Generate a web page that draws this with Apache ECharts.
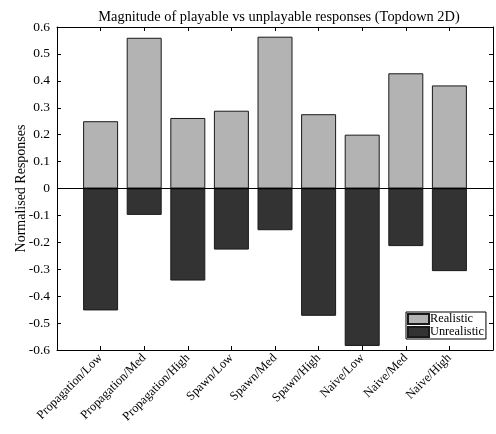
<!DOCTYPE html>
<html>
<head>
<meta charset="utf-8">
<script src="https://cdn.jsdelivr.net/npm/echarts@6/dist/echarts.min.js"></script>
<style>
  html, body { margin: 0; padding: 0; background: #ffffff; }
  #chart { width: 496px; height: 434px; }
</style>
</head>
<body>
<div id="chart"></div>
<script>
// Conditions compared in the study
const categories = [
  'Propagation/Low', 'Propagation/Med', 'Propagation/High',
  'Spawn/Low', 'Spawn/Med', 'Spawn/High',
  'Naive/Low', 'Naive/Med', 'Naive/High'
];
// Normalised responses per condition
const realistic = [0.25, 0.56, 0.262, 0.289, 0.564, 0.276, 0.2, 0.428, 0.383];
const unrealistic = [-0.453, -0.098, -0.342, -0.227, -0.155, -0.473, -0.585, -0.214, -0.307];
const yTicks = [-0.6, -0.5, -0.4, -0.3, -0.2, -0.1, 0, 0.1, 0.2, 0.3, 0.4, 0.5, 0.6];

const FONT = 'Liberation Serif';
const chart = echarts.init(document.getElementById('chart'), null, { renderer: 'canvas' });

// Bars sit at positions 1..N on a 0..N+1 value axis
const toPairs = arr => arr.map((v, i) => [i + 1, v]);

const tickStyle = { show: true, inside: true, length: 4, lineStyle: { color: '#000', width: 1 } };

chart.setOption({
  backgroundColor: '#ffffff',
  animation: false,
  textStyle: { fontFamily: FONT, color: '#000' },
  title: {
    text: 'Magnitude of playable vs unplayable responses (Topdown 2D)',
    left: 274, top: 5, textAlign: 'center',
    textStyle: { fontFamily: FONT, fontSize: 14.4, fontWeight: 'normal', color: '#000' }
  },
  grid: { left: 57, right: 3, top: 27, bottom: 84, containLabel: false, outerBoundsMode: 'none' },
  legend: {
    data: ['Realistic', 'Unrealistic'],
    orient: 'vertical',
    left: 406, top: 312,
    padding: [1, 2, 1, 1],
    itemGap: 1,
    itemWidth: 21, itemHeight: 10,
    icon: 'rect',
    backgroundColor: '#ffffff',
    borderColor: '#000', borderWidth: 1,
    borderRadius: 0,
    textStyle: { fontFamily: FONT, fontSize: 12.3, lineHeight: 11, color: '#000', padding: [0, 0, 0, -4] }
  },
  xAxis: [
    {
      type: 'value', min: 0, max: categories.length + 1, interval: 1,
      position: 'bottom',
      splitLine: { show: false },
      axisLine: { show: true, onZero: false, lineStyle: { color: '#000', width: 1 } },
      axisTick: tickStyle,
      axisLabel: {
        rotate: 45, fontFamily: FONT, fontSize: 12.5, color: '#000', margin: 6,
        formatter: v => categories[v - 1] || ''
      }
    },
    {
      type: 'value', min: 0, max: categories.length + 1, interval: 1,
      position: 'top',
      splitLine: { show: false },
      axisLine: { show: true, onZero: false, lineStyle: { color: '#000', width: 1 } },
      axisTick: tickStyle,
      axisLabel: { show: false }
    }
  ],
  yAxis: [
    {
      type: 'value', min: yTicks[0], max: yTicks[yTicks.length - 1], interval: 0.1,
      position: 'left',
      name: 'Normalised Responses', nameLocation: 'middle', nameGap: 29,
      nameMoveOverlap: false,
      nameTextStyle: { fontFamily: FONT, fontSize: 14, color: '#000' },
      splitLine: { show: false },
      axisLine: { show: true, onZero: false, lineStyle: { color: '#000', width: 1 } },
      axisTick: tickStyle,
      axisLabel: {
        fontFamily: FONT, fontSize: 13.5, color: '#000', margin: 7,
        formatter: v => {
          const r = Math.round(v * 10) / 10;
          return r === 0 ? '0' : r.toFixed(1);
        }
      }
    },
    {
      type: 'value', min: yTicks[0], max: yTicks[yTicks.length - 1], interval: 0.1,
      position: 'right',
      splitLine: { show: false },
      axisLine: { show: true, onZero: false, lineStyle: { color: '#000', width: 1 } },
      axisTick: tickStyle,
      axisLabel: { show: false }
    }
  ],
  series: [
    {
      name: 'Realistic', type: 'bar',
      data: toPairs(realistic),
      barWidth: 35, barGap: '-100%',
      itemStyle: { color: '#b3b3b3', borderColor: '#1a1a1a', borderWidth: 1 }
    },
    {
      name: 'Unrealistic', type: 'bar',
      data: toPairs(unrealistic),
      barWidth: 35, barGap: '-100%',
      itemStyle: { color: '#333333', borderColor: '#1a1a1a', borderWidth: 1 },
      markLine: {
        silent: true, symbol: 'none', label: { show: false },
        lineStyle: { color: '#000', width: 1, type: 'solid' },
        data: [{ yAxis: 0 }]
      }
    }
  ]
});
</script>
</body>
</html>
